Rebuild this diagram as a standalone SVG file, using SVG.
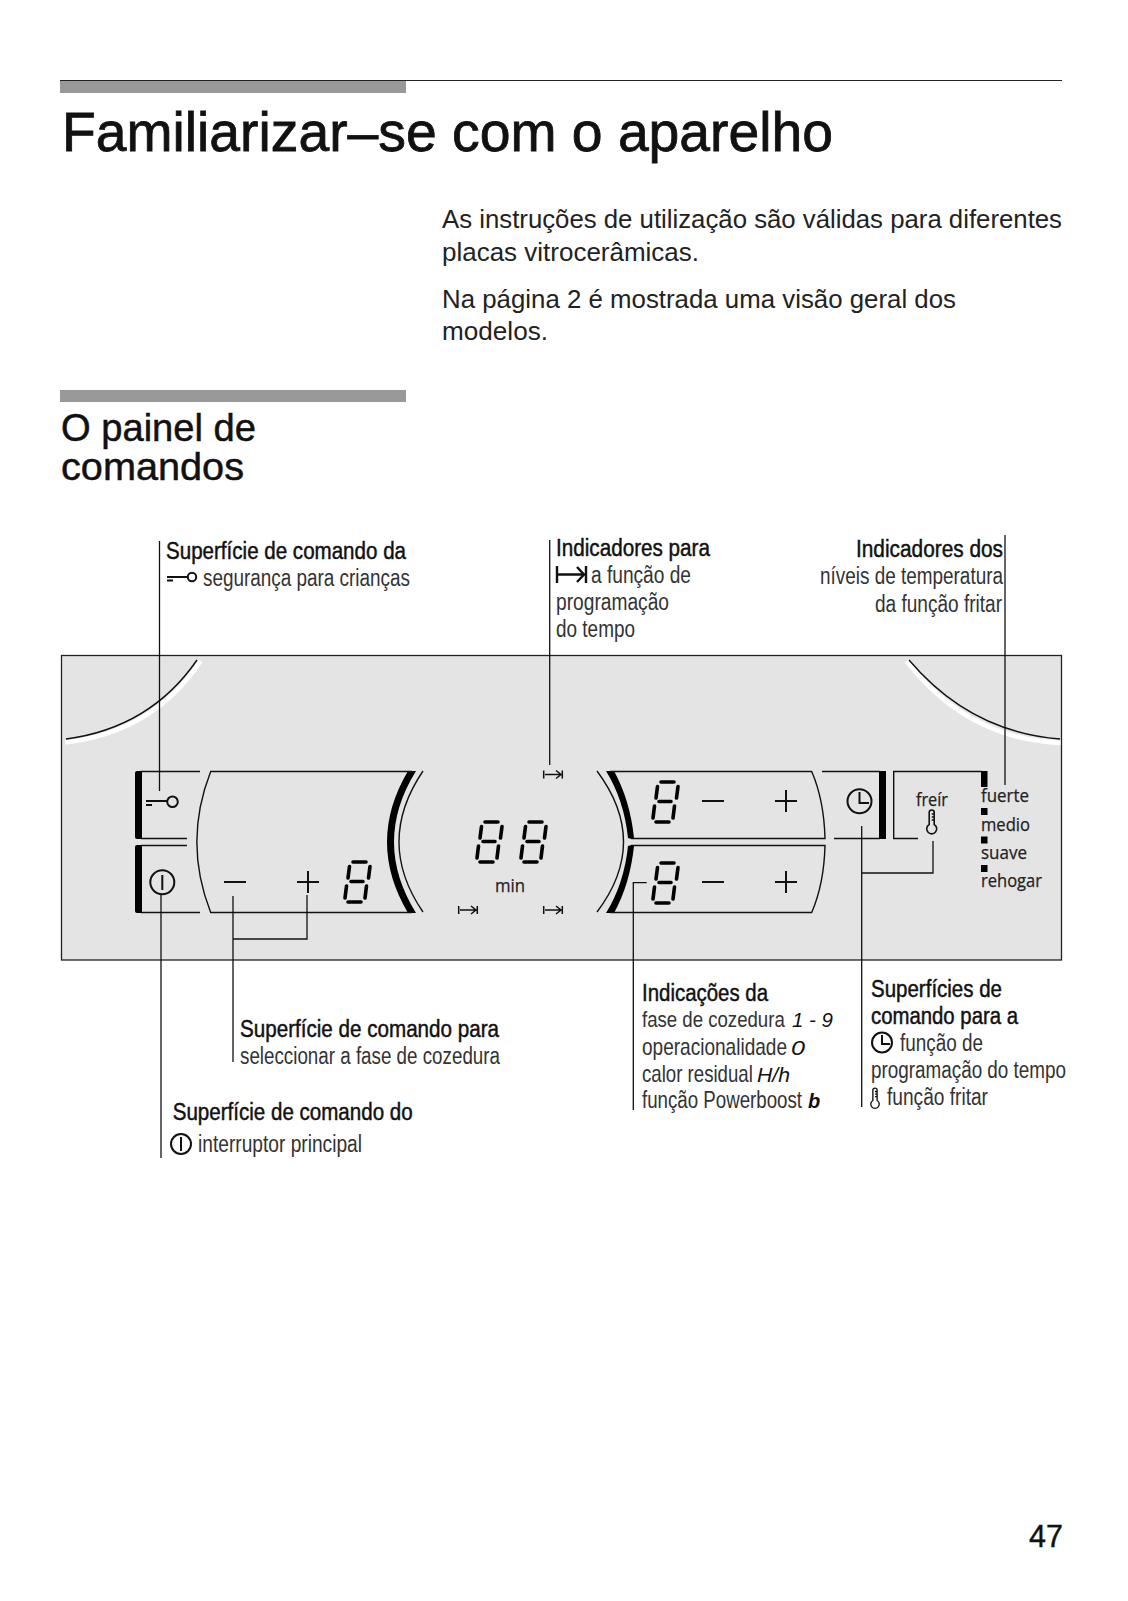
<svg xmlns="http://www.w3.org/2000/svg" xmlns:xlink="http://www.w3.org/1999/xlink" width="1128" height="1601" viewBox="0 0 1128 1601">
<style>
text{font-family:"Liberation Sans",Arial,sans-serif;fill:#111}
.h1{font-size:56px;stroke:#111;stroke-width:.8px}
.body{font-size:26px;fill:#222}
.h2{font-size:38px;stroke:#111;stroke-width:.5px}
.b{font-size:23px;stroke:#111;stroke-width:.45px}
.r{font-size:23px;fill:#333}
.p{font-family:"Open Sans","DejaVu Sans",sans-serif;font-size:18px;fill:#222;stroke:#222;stroke-width:.25px}
.seg{font-style:italic;font-size:20px}
.l{fill:none;stroke:#111;stroke-width:1.4}
.c{fill:none;stroke:#111;stroke-width:1.3}
.i{fill:none;stroke:#111;stroke-width:2}
.bar{fill:#999}
.blk{fill:#000}
.d{fill:none;stroke:#000;stroke-width:3.6;stroke-linecap:round}
</style>
<defs>
<g id="d8"><path class="d" d="M11 2H24M7.500 6.500L6 18M28 6.500L26.500 18M9 21.500H21M4.500 26L3 38M24.500 26L23 38M6 42H19"/></g>
<g id="arrow"><path fill="none" stroke="#111" stroke-width="1.500" d="M.7 -4V4M2 0H18M13 -4L18 0L13 4M19.300 -4V4"/></g>
<g id="minus"><path class="i" d="M0 0H22"/></g>
<g id="plus"><path class="i" d="M0 0H22M11 -11V11"/></g>
<g id="thermo"><path fill="none" stroke="#111" stroke-width="1.600" d="M-2.500 13.500V1.500A2.500 2.500 0 0 1 2.500 1.500V13.500A5 5 0 1 1 -2.500 13.500ZM0 3H2.500M0 6H2.500M0 9H2.500"/></g>
</defs>
<rect width="1128" height="1601" fill="#fff"/>

<g id="header">
<rect class="bar" x="60" y="81" width="346" height="12"/>
<path d="M60 80.500H1062" stroke="#222" stroke-width="1"/>
<text class="h1" x="62" y="151" textLength="771" lengthAdjust="spacingAndGlyphs">Familiarizar–se com o aparelho</text>
</g>
<g id="intro">
<text class="body" x="442" y="228" textLength="620" lengthAdjust="spacingAndGlyphs">As instruções de utilização são válidas para diferentes</text>
<text class="body" x="442" y="261" textLength="257" lengthAdjust="spacingAndGlyphs">placas vitrocerâmicas.</text>
<text class="body" x="442" y="308" textLength="514" lengthAdjust="spacingAndGlyphs">Na página 2 é mostrada uma visão geral dos</text>
<text class="body" x="442" y="340" textLength="106" lengthAdjust="spacingAndGlyphs">modelos.</text>
</g>
<g id="section">
<rect class="bar" x="60" y="390" width="346" height="12"/>
<text class="h2" x="61" y="441" textLength="195" lengthAdjust="spacingAndGlyphs">O painel de</text>
<text class="h2" x="61" y="480" textLength="183" lengthAdjust="spacingAndGlyphs">comandos</text>
</g>

<g id="panel">
<rect x="61.500" y="655.500" width="1000" height="304.500" fill="#e4e4e4" stroke="#222" stroke-width="1.300"/>
<path d="M65 742.500Q154 732 200.500 661M906.500 661Q967 739 1060.500 743" fill="none" stroke="#fff" stroke-width="4.500"/>
<path class="l" d="M66 739Q150 728 197 660M909 660Q970 732 1060 739"/>
</g>

<g id="key-button">
<path class="blk" d="M135 773Q135 771 137 771H142V839H137Q135 839 135 837Z"/>
<path class="l" d="M141 771.500H200M141 838.500H187"/>
<circle class="i" cx="172.500" cy="801.700" r="5.300"/>
<path class="i" d="M146 801H167M146 805H152"/>
</g>
<g id="power-button">
<path class="blk" d="M135 847Q135 845 137 845H142V913H137Q135 913 135 911Z"/>
<path class="l" d="M141 845.500H187M141 912.500H200"/>
<circle class="i" cx="162.300" cy="882.300" r="12"/>
<path class="i" d="M162.300 875V890"/>
</g>
<g id="left-zone">
<path class="l" d="M423 771Q375 842 423 912"/>
<path class="blk" d="M408 771H416Q372 842 416 913H408Q366 842 408 771Z"/>
<path class="l" d="M412 771.500H210.700Q183 842 210.700 912.500H412"/>
<use href="#minus" x="224" y="882"/>
<use href="#plus" x="297" y="882"/>
<use href="#d8" x="342" y="860"/>
</g>
<g id="timer-display">
<use href="#arrow" x="543" y="774.500"/>
<use href="#d8" x="474" y="820"/>
<use href="#d8" x="518" y="820"/>
<text class="p" x="495" y="892" textLength="30" lengthAdjust="spacingAndGlyphs">min</text>
<use href="#arrow" x="458" y="910"/>
<use href="#arrow" x="543" y="910"/>
</g>
<g id="right-zone">
<path class="l" d="M597 771Q650 842 597 912"/>
<path class="blk" d="M606 771H614Q630 800 634 838Q631 839.500 628 838Q624 800 606 771Z"/>
<path class="blk" d="M606 913H614Q630 884 634 846Q631 844.500 628 846Q624 884 606 913Z"/>
<path class="l" d="M610 771.500H811.700Q824 800 825 838.500H631M631 845.500H825Q824 884 811.700 912.500H610"/>
<use href="#d8" x="650" y="780"/>
<use href="#minus" x="702" y="801"/>
<use href="#plus" x="775" y="801"/>
<use href="#d8" x="650" y="861"/>
<use href="#minus" x="702" y="882"/>
<use href="#plus" x="775" y="882"/>
</g>
<g id="clock-button">
<rect class="blk" x="879" y="771" width="7" height="68"/>
<path class="l" d="M822 771.500H880M834 838.500H880"/>
<circle class="i" cx="859.500" cy="801.300" r="12"/>
<path class="i" d="M859.500 792V803H869"/>
</g>
<g id="fry-button">
<path class="l" d="M982 771.500H893.700V838.500H918"/>
<text class="p" x="916" y="806" textLength="32" lengthAdjust="spacingAndGlyphs">freír</text>
<use href="#thermo" x="931.700" y="811"/>
</g>
<g id="fry-levels">
<rect class="blk" x="981" y="771" width="6.500" height="16"/>
<rect class="blk" x="981" y="808" width="6.500" height="7"/>
<rect class="blk" x="981" y="836.500" width="6.500" height="7"/>
<rect class="blk" x="981" y="865" width="6.500" height="7"/>
<text class="p" x="981" y="802" textLength="48" lengthAdjust="spacingAndGlyphs">fuerte</text>
<text class="p" x="981" y="831" textLength="49" lengthAdjust="spacingAndGlyphs">medio</text>
<text class="p" x="981" y="859" textLength="46" lengthAdjust="spacingAndGlyphs">suave</text>
<text class="p" x="981" y="887" textLength="61" lengthAdjust="spacingAndGlyphs">rehogar</text>
</g>

<g id="connectors">
<path class="c" d="M159.500 541V791"/>
<path class="c" d="M161 895V1158"/>
<path class="c" d="M233 896V1062M233 939H307V895"/>
<path class="c" d="M549.700 540V765"/>
<path class="c" d="M1005 535V785"/>
<path class="c" d="M646.700 882.700H633.300V1110"/>
<path class="c" d="M861.700 826V1107M861.700 873H933V841"/>
</g>

<g id="label-key">
<text class="b" x="166" y="559" textLength="240" lengthAdjust="spacingAndGlyphs">Superfície de comando da</text>
<circle class="i" cx="192" cy="577" r="4.200"/>
<path class="i" d="M167 577H188M167 580.500H173"/>
<text class="r" x="203" y="586" textLength="207" lengthAdjust="spacingAndGlyphs">segurança para crianças</text>
</g>
<g id="label-timer">
<text class="b" x="556" y="556" textLength="154" lengthAdjust="spacingAndGlyphs">Indicadores para</text>
<path fill="none" stroke="#111" stroke-width="2.400" d="M557 566V583M558 574.500H584M577 567L584 574.500L577 582M586 566V583"/>
<text class="r" x="591" y="583" textLength="100" lengthAdjust="spacingAndGlyphs">a função de</text>
<text class="r" x="556" y="610" textLength="113" lengthAdjust="spacingAndGlyphs">programação</text>
<text class="r" x="556" y="637" textLength="79" lengthAdjust="spacingAndGlyphs">do tempo</text>
</g>
<g id="label-levels">
<text class="b" x="856" y="557" textLength="147" lengthAdjust="spacingAndGlyphs">Indicadores dos</text>
<text class="r" x="820" y="584" textLength="183" lengthAdjust="spacingAndGlyphs">níveis de temperatura</text>
<text class="r" x="875" y="612" textLength="127" lengthAdjust="spacingAndGlyphs">da função fritar</text>
</g>
<g id="label-select">
<text class="b" x="240" y="1037" textLength="259" lengthAdjust="spacingAndGlyphs">Superfície de comando para</text>
<text class="r" x="240" y="1064" textLength="260" lengthAdjust="spacingAndGlyphs">seleccionar a fase de cozedura</text>
</g>
<g id="label-power">
<text class="b" x="172.700" y="1120" textLength="240" lengthAdjust="spacingAndGlyphs">Superfície de comando do</text>
<circle class="i" cx="181" cy="1144" r="10"/>
<path class="i" d="M181 1137V1151"/>
<text class="r" x="198" y="1152" textLength="164" lengthAdjust="spacingAndGlyphs">interruptor principal</text>
</g>
<g id="label-display">
<text class="b" x="642" y="1001" textLength="126" lengthAdjust="spacingAndGlyphs">Indicações da</text>
<text class="r" transform="translate(642 1027) scale(.81 1)">fase de cozedura</text>
<text class="seg" x="792" y="1027" textLength="41" lengthAdjust="spacingAndGlyphs">1 - 9</text>
<text class="r" transform="translate(642 1055) scale(.828 1)">operacionalidade</text>
<text class="seg" x="791" y="1055" textLength="14" lengthAdjust="spacingAndGlyphs">0</text>
<text class="r" transform="translate(642 1082) scale(.811 1)">calor residual</text>
<text class="seg" x="757" y="1082" textLength="33" lengthAdjust="spacingAndGlyphs">H/h</text>
<text class="r" transform="translate(642 1108) scale(.813 1)">função Powerboost</text>
<text class="seg" x="808" y="1108" font-weight="bold">b</text>
</g>
<g id="label-functions">
<text class="b" x="871" y="997" textLength="131" lengthAdjust="spacingAndGlyphs">Superfícies de</text>
<text class="b" x="871" y="1024" textLength="147" lengthAdjust="spacingAndGlyphs">comando para a</text>
<circle class="i" cx="882" cy="1042.500" r="10"/>
<path class="i" d="M882 1035V1044H890"/>
<text class="r" x="900" y="1051" textLength="83" lengthAdjust="spacingAndGlyphs">função de</text>
<text class="r" x="871" y="1078" textLength="195" lengthAdjust="spacingAndGlyphs">programação do tempo</text>
<g transform="translate(875 1089) scale(.85)"><use href="#thermo"/></g>
<text class="r" x="887" y="1105" textLength="101" lengthAdjust="spacingAndGlyphs">função fritar</text>
</g>
<g id="page-number">
<text x="1029" y="1547" font-size="32" stroke="#111" stroke-width=".4" textLength="34" lengthAdjust="spacingAndGlyphs">47</text>
</g>
</svg>
